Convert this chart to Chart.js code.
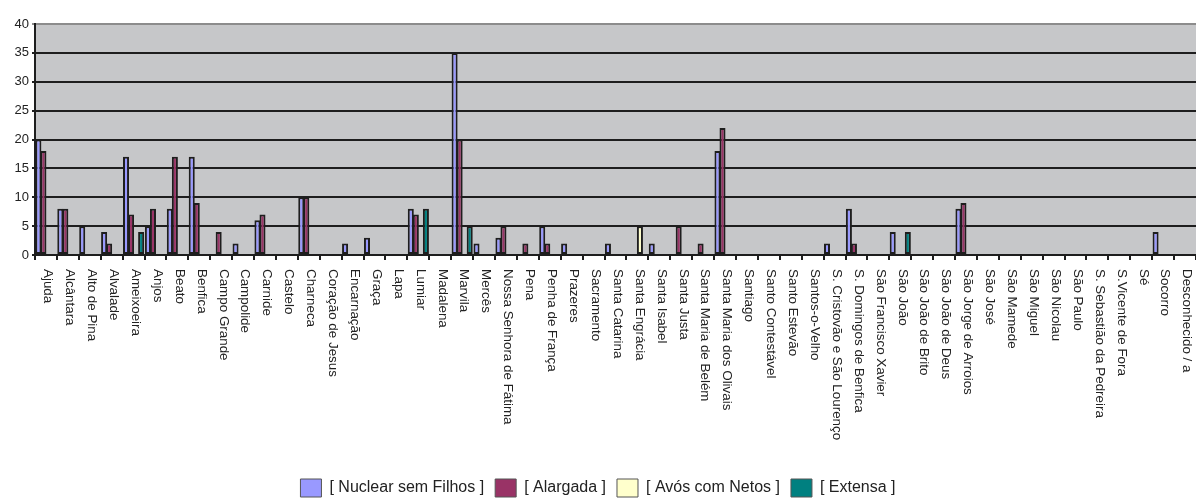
<!DOCTYPE html>
<html>
<head>
<meta charset="utf-8">
<script src="https://cdn.jsdelivr.net/npm/chart.js@4/dist/chart.umd.min.js"></script>
<style>
  html, body { margin: 0; padding: 0; background: #fff; }
  #wrap { width: 1196px; height: 499px; }
</style>
</head>
<body>
<div id="wrap"><canvas id="chart" width="1196" height="499"></canvas></div>
<script>
const freguesias = [
  'Ajuda', 'Alcântara', 'Alto de Pina', 'Alvalade', 'Ameixoeira', 'Anjos', 'Beato', 'Benfica',
  'Campo Grande', 'Campolide', 'Carnide', 'Castelo', 'Charneca', 'Coração de Jesus', 'Encarnação',
  'Graça', 'Lapa', 'Lumiar', 'Madalena', 'Marvila', 'Mercês', 'Nossa Senhora de Fátima', 'Pena',
  'Penha de França', 'Prazeres', 'Sacramento', 'Santa Catarina', 'Santa Engrácia', 'Santa Isabel',
  'Santa Justa', 'Santa Maria de Belém', 'Santa Maria dos Olivais', 'Santiago', 'Santo Contestável',
  'Santo Estevão', 'Santos-o-Velho', 'S. Cristovão e São Lourenço', 'S. Domingos de Benfica',
  'São Francisco Xavier', 'São João', 'São João de Brito', 'São João de Deus', 'São Jorge de Arroios',
  'São José', 'São Mamede', 'São Miguel', 'São Nicolau', 'São Paulo', 'S. Sebastião da Pedreira',
  'S.Vicente de Fora', 'Sé', 'Socorro', 'Desconhecido / a'
];

const nuclearSemFilhos = [20, 8, 5, 4, 17, 5, 8, 17, 0, 2, 6, 0, 10, 0, 2, 3, 0, 8, 0, 35, 2, 3, 0, 5, 2, 0,
  2, 0, 2, 0, 0, 18, 0, 0, 0, 0, 2, 8, 0, 4, 0, 0, 8, 0, 0, 0, 0, 0, 0, 0, 0, 4, 0];
const alargada = [18, 8, 0, 2, 7, 8, 17, 9, 4, 0, 7, 0, 10, 0, 0, 0, 0, 7, 0, 20, 0, 5, 2, 2, 0, 0,
  0, 0, 0, 5, 2, 22, 0, 0, 0, 0, 0, 2, 0, 0, 0, 0, 9, 0, 0, 0, 0, 0, 0, 0, 0, 0, 0];
const avosComNetos = [0, 0, 0, 0, 0, 0, 0, 0, 0, 0, 0, 0, 0, 0, 0, 0, 0, 0, 0, 0, 0, 0, 0, 0, 0, 0,
  0, 5, 0, 0, 0, 0, 0, 0, 0, 0, 0, 0, 0, 0, 0, 0, 0, 0, 0, 0, 0, 0, 0, 0, 0, 0, 0];
const extensa = [0, 0, 0, 0, 4, 0, 0, 0, 0, 0, 0, 0, 0, 0, 0, 0, 0, 8, 0, 5, 0, 0, 0, 0, 0, 0,
  0, 0, 0, 0, 0, 0, 0, 0, 0, 0, 0, 0, 0, 4, 0, 0, 0, 0, 0, 0, 0, 0, 0, 0, 0, 0, 0];

const yTicks = [0, 5, 10, 15, 20, 25, 30, 35, 40];

const plotBg = {
  id: 'plotBg',
  beforeDraw(chart) {
    const a = chart.chartArea;
    const c = chart.ctx;
    c.save();
    c.fillStyle = '#c6c7c9';
    c.fillRect(a.left, a.top, a.right - a.left, a.bottom - a.top);
    c.restore();
  }
};

// vertical labels reading top to bottom, like the original
const xLabels = {
  id: 'xLabels',
  afterDraw(chart) {
    const x = chart.scales.x;
    const c = chart.ctx;
    c.save();
    c.font = '13.4px "Liberation Sans", Arial, sans-serif';
    c.fillStyle = '#222';
    c.textAlign = 'left';
    c.textBaseline = 'middle';
    freguesias.forEach((name, i) => {
      c.save();
      c.translate(x.getPixelForValue(i) + 2, x.top + 14);
      c.rotate(Math.PI / 2);
      c.fillText(name, 0, 0);
      c.restore();
    });
    c.restore();
  }
};

const border = '#1e1e1e';
function ds(label, data, color) {
  return {
    label: label,
    data: data,
    backgroundColor: color,
    borderColor: border,
    borderWidth: 2,
    borderSkipped: false,
    categoryPercentage: 0.92,
    barPercentage: 1.2
  };
}

new Chart(document.getElementById('chart'), {
  type: 'bar',
  data: {
    labels: freguesias,
    datasets: [
      ds('[ Nuclear sem Filhos ]', nuclearSemFilhos, '#9999ff'),
      ds('[ Alargada ]', alargada, '#993366'),
      ds('[ Avós com Netos ]', avosComNetos, '#ffffcc'),
      ds('[ Extensa ]', extensa, '#008080')
    ]
  },
  options: {
    responsive: false,
    animation: false,
    layout: { padding: { top: 24, right: 0, left: 0, bottom: -8 } },
    plugins: {
      tooltip: { enabled: false },
      legend: {
        position: 'bottom',
        labels: {
          boxWidth: 21,
          boxHeight: 18,
          padding: 11,
          color: '#222',
          font: { family: '"Liberation Sans", Arial, sans-serif', size: 16 },
          generateLabels(chart) {
            const items = Chart.defaults.plugins.legend.labels.generateLabels(chart);
            items.forEach(it => { it.lineWidth = 1; it.strokeStyle = '#555'; });
            return items;
          }
        }
      }
    },
    scales: {
      x: {
        offset: true,
        ticks: { display: false },
        grid: { drawOnChartArea: false, offset: true, tickLength: 5, color: border, lineWidth: 2 },
        border: { color: border, width: 2 },
        afterFit(s) { s.height = 213; }
      },
      y: {
        min: 0,
        max: 40,
        afterBuildTicks(s) { s.ticks = yTicks.map(v => ({ value: v })); },
        ticks: {
          padding: 3,
          color: '#222',
          font: { family: '"Liberation Sans", Arial, sans-serif', size: 13 }
        },
        grid: {
          tickLength: 3,
          lineWidth: 2,
          color: ctx => ctx.tick && ctx.tick.value === 40 ? '#8c8c8c' : border
        },
        border: { color: border, width: 2 },
        afterFit(s) { s.width = 35; }
      }
    }
  },
  plugins: [plotBg, xLabels]
});
</script>
</body>
</html>
